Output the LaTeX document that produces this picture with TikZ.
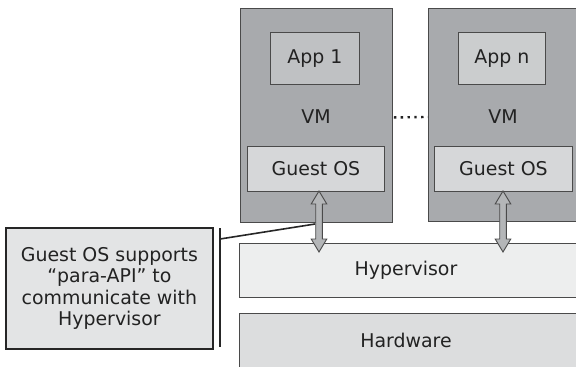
\documentclass[tikz,border=0pt]{standalone}
\usepackage{fontspec}
\setmainfont{DejaVu Sans}
\definecolor{vmgray}{HTML}{A8AAAD}
\definecolor{appone}{HTML}{BFC1C3}
\definecolor{appn}{HTML}{CBCDCE}
\definecolor{osgray}{HTML}{D6D7D9}
\definecolor{hypgray}{HTML}{EDEEEE}
\definecolor{hwgray}{HTML}{DCDDDE}
\definecolor{callgray}{HTML}{E3E4E5}
\definecolor{arrgray}{HTML}{B4B6B8}
\definecolor{edgegray}{HTML}{4A4A4A}
\definecolor{txtgray}{HTML}{222222}
\begin{document}
\begin{tikzpicture}[x=1bp,y=-1bp,
  box/.style={draw=edgegray, line width=0.9bp, inner sep=0pt, anchor=north west},
  lbl/.style={font=\fontsize{19}{21.5}\selectfont, text=txtgray, inner sep=0pt},
  callbox/.style={draw=black!85, line width=1.8bp, fill=callgray, inner sep=0pt, anchor=north west},
  blockarrow/.style={draw=edgegray, line width=0.9bp, fill=arrgray, line join=miter},
  thinline/.style={draw=black!85, line width=1.6bp}]
\useasboundingbox (0,0) rectangle (576,366);
\fill[white] (0,0) rectangle (576,366);
% VMs
\node[box, fill=vmgray, minimum width=152bp, minimum height=214bp] (vm1) at (240,8) {};
\node[box, fill=vmgray, minimum width=152bp, minimum height=213bp] (vm2) at (428,8) {};
% apps
\node[box, fill=appone, minimum width=89bp, minimum height=52bp] (app1) at (270,32) {};
\node[lbl] at (app1.center) {App 1};
\node[box, fill=appn, minimum width=87bp, minimum height=52bp] (appn) at (458,32) {};
\node[lbl] at (appn.center) {App n};
% VM labels
\node[lbl] (vmlbl1) at (316,117) {VM};
\node[lbl] (vmlbl2) at (503,117) {VM};
% guest OS
\node[box, fill=osgray, minimum width=137bp, minimum height=45bp] (os1) at (247,146) {};
\node[lbl] at (os1.center) {Guest OS};
\node[box, fill=osgray, minimum width=138bp, minimum height=45bp] (os2) at (434,146) {};
\node[lbl] at (os2.center) {Guest OS};
% hypervisor, hardware
\node[box, fill=hypgray, minimum width=340bp, minimum height=54bp] (hyp) at (239,243) {};
\node[lbl] at (406,270) {Hypervisor};
\node[box, fill=hwgray, minimum width=340bp, minimum height=56bp] (hw) at (239,313) {};
\node[lbl] at (406,340) {Hardware};
% dots
\draw[txtgray, line width=2.4bp, dash pattern=on 2.4bp off 4.4bp] ([xshift=1bp,yshift=-2bp]vm1.east) -- ([yshift=-2bp]vm2.west);
% block arrows
\coordinate (a1t) at (319,191);
\coordinate (a2t) at (503,191);
\foreach \t in {a1t,a2t}{
  \draw[blockarrow] (\t) -- ++(7.8,13) -- ++(-4.5,0) -- ++(0,35) -- ++(4.5,0) -- ++(-7.8,13)
     -- ++(-7.8,-13) -- ++(4.5,0) -- ++(0,-35) -- ++(-4.5,0) -- cycle;
}
% callout
\node[callbox, minimum width=207bp, minimum height=121bp] (call) at (5,227) {};
\node[lbl, align=center] at (call.center) {Guest OS supports\\“para-API” to\\communicate with\\Hypervisor};
\coordinate (brtop) at (220,228);
\coordinate (brbot) at (220,347);
\coordinate (brjoin) at (220,239);
\coordinate (arrjoin) at (315,224);
\draw[thinline] (brtop) -- (brbot);
\draw[thinline] (brjoin) -- (arrjoin);
\end{tikzpicture}
\end{document}
